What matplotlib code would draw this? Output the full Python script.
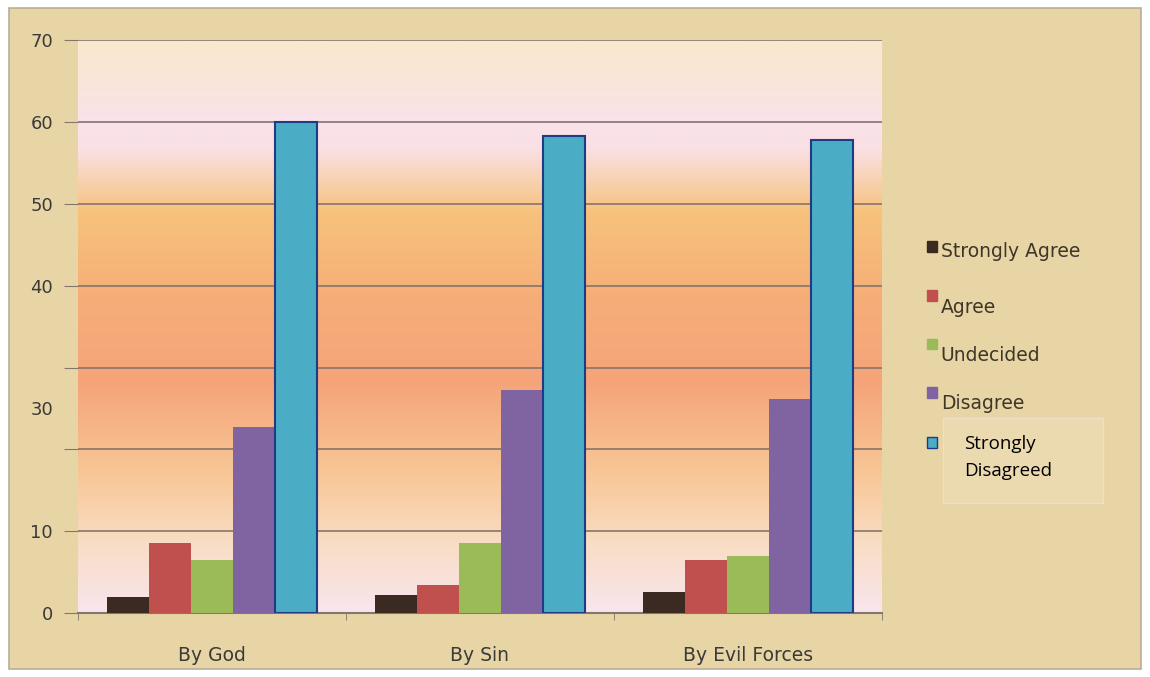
import matplotlib.pyplot as plt
import matplotlib.patches as mpatches
from matplotlib.colors import LinearSegmentedColormap
import numpy as np

# data
groups = ['By God', 'By Sin', 'By Evil Forces']
series = ['Strongly Agree', 'Agree', 'Undecided', 'Disagree', 'Strongly\nDisagreed']
strongly_agree = [2.0, 2.2, 2.6]
agree = [8.5, 3.4, 6.5]
undecided = [6.5, 8.5, 7.0]
disagree = [22.7, 27.2, 26.1]
strongly_disagreed = [60.0, 58.3, 57.8]
values = [strongly_agree, agree, undecided, disagree, strongly_disagreed]

# y labels as printed (the "30" sits between gridlines, no "20")
major_ticks = [0, 10, 20, 30, 40, 50, 60, 70]
major_labels = ['0', '10', '', '', '40', '50', '60', '70']
odd_tick = [25]
odd_label = ['30']

colors = ['#3b2a22', '#c0504d', '#9bbb59', '#8064a2', '#4bacc6']
edges = ['none', 'none', 'none', 'none', '#1f3b86']

fig = plt.figure(figsize=(11.5, 6.77), dpi=100)
fig.patch.set_facecolor('white')
# papyrus background
fig.patches.append(mpatches.Rectangle((0.008, 0.012), 0.984, 0.976, transform=fig.transFigure,
                                      facecolor='#e8d5a6', edgecolor='#b8ad98', lw=1.2, zorder=-10))

ax = fig.add_axes([0.0678, 0.0945, 0.699, 0.846])
ax.set_facecolor('none')

# gradient inside plot area (top -> bottom)
grad = LinearSegmentedColormap.from_list('bg', [
    (0.0, '#fbe8d0'), (0.06, '#fae6d8'), (0.14, '#f9e2ea'), (0.19, '#f9e0e4'),
    (0.30, '#f7c27c'), (0.45, '#f6ae78'), (0.60, '#f5a47a'), (0.75, '#f8c594'),
    (0.88, '#f9ddc4'), (1.0, '#f8e5ee')])
ax.imshow(np.linspace(0, 1, 256).reshape(-1, 1), aspect='auto', cmap=grad,
          extent=[-0.5, len(groups) - 0.5, 0, 70], zorder=0)

x = np.arange(len(groups))
width = 0.157
for i, (name, vals) in enumerate(zip(series, values)):
    offs = (i - 2) * width
    ax.bar(x + offs, vals, width, color=colors[i], edgecolor=edges[i],
           linewidth=1.5 if edges[i] != 'none' else 0, zorder=3, label=name)

ax.set_xlim(-0.5, len(groups) - 0.5)
ax.set_ylim(0, 70)

ax.set_yticks(major_ticks)
ax.set_yticklabels(major_labels)
ax.set_yticks(odd_tick, minor=True)
ax.set_yticklabels(odd_label, minor=True)
ax.tick_params(axis='y', which='minor', length=0, labelsize=13, colors='#3a3a3a', pad=18)
ax.tick_params(axis='y', which='major', length=10, color='#85766c', labelsize=13,
               labelcolor='#3a3a3a', pad=8)
ax.yaxis.grid(True, which='major', color='#85766c', lw=1.2, zorder=1)

ax.set_xticks(x)
ax.set_xticklabels(groups)
ax.set_xticks(np.arange(len(groups) + 1) - 0.5, minor=True)
ax.tick_params(axis='x', which='major', length=0, labelsize=13.5, labelcolor='#3a3a3a', pad=24)
ax.tick_params(axis='x', which='minor', length=5, color='#85766c')

for s in ['top', 'right', 'left']:
    ax.spines[s].set_visible(False)
ax.spines['bottom'].set_color('#85766c')
ax.spines['bottom'].set_linewidth(1.5)

# legend drawn by hand to follow the uneven spacing of the original
leg_sq_y = [0.628, 0.556, 0.484, 0.412, 0.338]
leg_txt_y = [0.615, 0.532, 0.461, 0.390]
sq_w, sq_h = 0.009, 0.016
for i, name in enumerate(series):
    fig.patches.append(mpatches.Rectangle((0.806, leg_sq_y[i]), sq_w, sq_h, transform=fig.transFigure,
                                          facecolor=colors[i], edgecolor=edges[i] if edges[i] != 'none' else colors[i],
                                          lw=1, zorder=5))
    if i < 4:
        fig.text(0.818, leg_txt_y[i], name, fontsize=13.5, color='#3e3628',
                 va='bottom', ha='left')
fig.patches.append(mpatches.Rectangle((0.820, 0.257), 0.139, 0.125, transform=fig.transFigure,
                                      facecolor='#ebdab0', edgecolor='#f2dccb', lw=1, zorder=4))
fig.text(0.838, 0.358, series[4], fontsize=13.5, color='black', va='top', ha='left',
         family='Open Sans', linespacing=1.7, zorder=6)

fig.savefig('out.png', dpi=100, facecolor=fig.get_facecolor())
